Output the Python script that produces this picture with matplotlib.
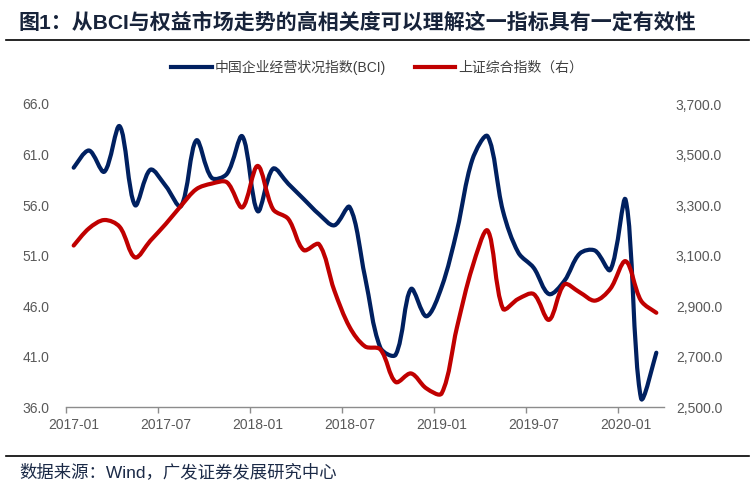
"""BCI vs Shanghai Composite, Excel-style smoothed lines."""

import matplotlib

matplotlib.use("Agg")
import matplotlib.pyplot as plt
from matplotlib.lines import Line2D
from matplotlib.patches import PathPatch
from matplotlib.path import Path
from matplotlib.ticker import FixedLocator, FuncFormatter

# ---- data (monthly, 2017-01 .. 2020-03) ----
months = [f"{y}-{m:02d}" for y in (2017, 2018, 2019, 2020) for m in range(1, 13)][:39]

bci = [
    59.7, 61.4, 59.3, 63.8, 56.0, 59.5, 57.9, 55.9, 62.4, 58.7, 59.1, 62.8,
    55.4, 59.6, 58.1, 56.6, 55.1, 54.0, 55.8, 48.9, 41.9, 41.2, 47.7, 45.0,
    47.9, 53.5, 60.5, 62.8, 55.4, 51.3, 49.8, 47.2, 48.5, 51.2, 51.5, 49.6,
    56.5, 36.9, 41.4,
]

sse = [
    3140, 3208, 3241, 3214, 3093, 3159, 3225, 3297, 3363, 3385, 3390, 3291,
    3455, 3284, 3245, 3122, 3145, 2962, 2817, 2741, 2729, 2600, 2634, 2575,
    2555, 2817, 3054, 3199, 2890, 2929, 2948, 2846, 2986, 2955, 2922, 2969,
    3078, 2922, 2874,
]

bci_label = "中国企业经营状况指数(BCI)"
sse_label = "上证综合指数（右）"
title = "图1：从BCI与权益市场走势的高相关度可以理解这一指标具有一定有效性"
source = "数据来源：Wind，广发证券发展研究中心"

BLUE = "#002060"
RED = "#C00000"
GREY = "#595959"
FONTS = ["Liberation Sans", "Noto Sans CJK SC", "DejaVu Sans"]

plt.rcParams["font.family"] = FONTS


def smooth_path(axis, xs, ys):
    """Bezier path through the points, like Excel's smoothed line.

    Control arms are weighted by the on-screen segment lengths, which keeps
    the curve from overshooting next to long jumps.
    """
    n = len(xs)
    pix = axis.transData.transform(list(zip(xs, ys)))
    seg = [((pix[i + 1][0] - pix[i][0]) ** 2 + (pix[i + 1][1] - pix[i][1]) ** 2) ** 0.5
           for i in range(n - 1)]

    arms_in, arms_out = [], []
    for i in range(n):
        a = max(i - 1, 0)
        b = min(i + 1, n - 1)
        tx, ty = xs[b] - xs[a], ys[b] - ys[a]
        d0 = seg[i - 1] if i > 0 else 0.0
        d1 = seg[i] if i < n - 1 else 0.0
        tot = d0 + d1 if d0 + d1 > 0 else 1.0
        w_in, w_out = d0 / tot / 3, d1 / tot / 3
        if i == 0 or i == n - 1:
            w_in, w_out = 1 / 6, 1 / 6
        arms_in.append((xs[i] - tx * w_in, ys[i] - ty * w_in))
        arms_out.append((xs[i] + tx * w_out, ys[i] + ty * w_out))

    verts = [(xs[0], ys[0])]
    codes = [Path.MOVETO]
    for i in range(n - 1):
        verts += [arms_out[i], arms_in[i + 1], (xs[i + 1], ys[i + 1])]
        codes += [Path.CURVE4] * 3
    return Path(verts, codes)


fig = plt.figure(figsize=(7.51, 4.86), dpi=100)
ax = fig.add_axes([66 / 751, 1 - 407.3 / 486, (664 - 66) / 751, (407.3 - 104) / 486])
ax2 = ax.twinx()

ax.set_xlim(-0.5, len(months) - 0.5)
ax.set_ylim(36, 66)
ax2.set_ylim(2500, 3700)

x = list(range(len(months)))
ax.add_patch(PathPatch(smooth_path(ax, x, bci), facecolor="none", edgecolor=BLUE,
                       lw=3, capstyle="round", joinstyle="round"))
ax2.add_patch(PathPatch(smooth_path(ax2, x, sse), facecolor="none", edgecolor=RED,
                        lw=3, capstyle="round", joinstyle="round"))

ax.set_yticks([36 + 5 * k for k in range(7)])
ax2.set_yticks([2500 + 200 * k for k in range(7)])
ax.yaxis.set_major_formatter(FuncFormatter(lambda v, _: f"{v:.1f}"))
ax2.yaxis.set_major_formatter(FuncFormatter(lambda v, _: f"{v:,.1f}"))

# tick marks on category boundaries, labels on category centres
ax.xaxis.set_major_locator(FixedLocator([k - 0.5 for k in range(0, 37, 6)]))
ax.xaxis.set_minor_locator(FixedLocator(list(range(0, 37, 6))))
ax.set_xticklabels([])
ax.set_xticklabels([months[k] for k in range(0, 37, 6)], minor=True)
ax.tick_params(axis="x", which="major", length=4, width=1, color="#8C8C8C")
ax.tick_params(axis="x", which="minor", length=0, pad=7.5, labelsize=10, labelcolor=GREY)
ax.tick_params(axis="y", length=0, pad=12, labelsize=10, labelcolor=GREY)
ax2.tick_params(axis="y", length=0, pad=8.5, labelsize=10, labelcolor=GREY)

for a in (ax, ax2):
    for side in ("top", "left", "right", "bottom"):
        a.spines[side].set_visible(False)
ax.spines["bottom"].set_visible(True)
ax.spines["bottom"].set_color("#8C8C8C")
ax.spines["bottom"].set_linewidth(1)

handles = [Line2D([], [], color=BLUE, lw=3), Line2D([], [], color=RED, lw=3)]
fig.legend(handles, [bci_label, sse_label], loc="center", ncol=2,
           bbox_to_anchor=(377 / 751, 1 - 67 / 486), frameon=False,
           fontsize=10, labelcolor="#404040", handlelength=2.9,
           handletextpad=0.2, columnspacing=2.1)

fig.text(19 / 751, 1 - 22 / 486, title, fontsize=15.1, fontweight="bold",
         color="#17233A", va="center", ha="left")
fig.text(19 / 751, 1 - 472 / 486, source, fontsize=12.5, color="#1B2A47",
         va="center", ha="left")
fig.add_artist(Line2D([6 / 751, 749 / 751], [1 - 40 / 486] * 2,
                      transform=fig.transFigure, color="black", lw=1.2))
fig.add_artist(Line2D([6 / 751, 749 / 751], [1 - 456 / 486] * 2,
                      transform=fig.transFigure, color="black", lw=1.2))

fig.savefig("out.png", dpi=100)
